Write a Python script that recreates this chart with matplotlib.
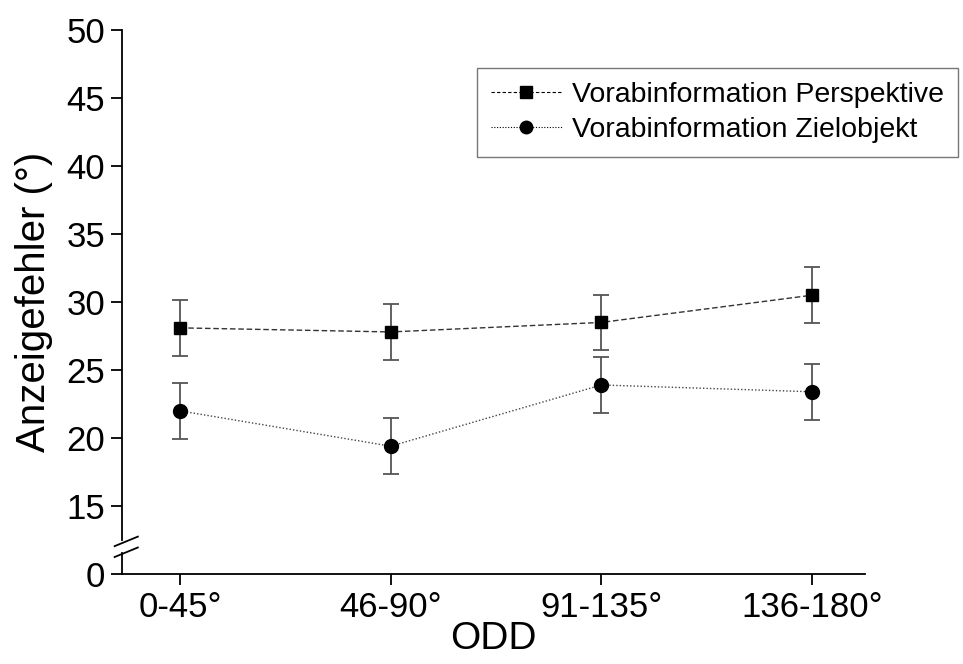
import matplotlib
matplotlib.use("Agg")
import matplotlib.pyplot as plt
from matplotlib.lines import Line2D

plt.rcParams['font.family'] = ['Liberation Sans', 'DejaVu Sans']

categories = ['0-45°', '46-90°', '91-135°', '136-180°']
perspektive = [28.1, 27.8, 28.5, 30.5]
perspektive_err = [2.05, 2.05, 2.05, 2.05]
zielobjekt = [22.0, 19.4, 23.9, 23.4]
zielobjekt_err = [2.05, 2.05, 2.05, 2.05]
y_ticks = [15, 20, 25, 30, 35, 40, 45, 50]

# axis break: the "0" tick sits at position 10 on the drawn scale
zero_pos = 10

fig = plt.figure(figsize=(9.63, 6.64), dpi=100)
ax = fig.add_axes([0.1267, 0.1355, 0.7713, 0.8193])

x = range(len(categories))
ax.errorbar(x, perspektive, yerr=perspektive_err, fmt='s', color='black',
            markersize=9, ecolor='#555555', elinewidth=1.3, capsize=6,
            capthick=1.3, zorder=3)
ax.plot(x, perspektive, linestyle=(0, (4, 2)), color='#333333', linewidth=1, zorder=2)
ax.errorbar(x, zielobjekt, yerr=zielobjekt_err, fmt='o', color='black',
            markersize=10, ecolor='#555555', elinewidth=1.3, capsize=6,
            capthick=1.3, zorder=3)
ax.plot(x, zielobjekt, linestyle=(0, (1, 1.5)), color='#444444', linewidth=1, zorder=2)

ax.set_xlim(-0.275, 3.25)
ax.set_ylim(zero_pos, 50)
ax.set_xticks(list(x))
ax.set_xticklabels(categories)
ax.set_yticks([zero_pos] + y_ticks)
ax.set_yticklabels(['0'] + [str(t) for t in y_ticks])

for side in ['top', 'right']:
    ax.spines[side].set_visible(False)
for side in ['left', 'bottom']:
    ax.spines[side].set_linewidth(1.3)
ax.tick_params(direction='out', length=8, width=1.3, labelsize=25, pad=4)

ax.set_xlabel('ODD', fontsize=28, labelpad=-2)
ax.set_ylabel('Anzeigefehler (°)', fontsize=29, labelpad=10)

# break marks on the y axis
bx0, bx1 = -0.31, -0.2
for yb in [11.6, 12.4]:
    ax.plot([bx0, bx1], [yb - 0.35, yb + 0.35], color='black', linewidth=1.3,
            clip_on=False, zorder=5)
ax.plot([-0.275, -0.275], [11.75, 12.25], color='white', linewidth=3,
        clip_on=False, zorder=4)

handles = [
    Line2D([], [], color='black', marker='s', markersize=8,
           linestyle=(0, (3, 2)), linewidth=0.8),
    Line2D([], [], color='black', marker='o', markersize=9,
           linestyle=(0, (1, 1.5)), linewidth=0.8),
]
leg = fig.legend(handles, ['Vorabinformation Perspektive', 'Vorabinformation Zielobjekt'],
                 loc='upper right', bbox_to_anchor=(0.995, 0.898), fontsize=20.5,
                 frameon=True, fancybox=False, edgecolor='#555555',
                 handlelength=2.5, handletextpad=0.35, borderpad=0.5,
                 labelspacing=0.3, borderaxespad=0)
leg.get_frame().set_linewidth(1.0)

fig.savefig('out.png', dpi=100)
